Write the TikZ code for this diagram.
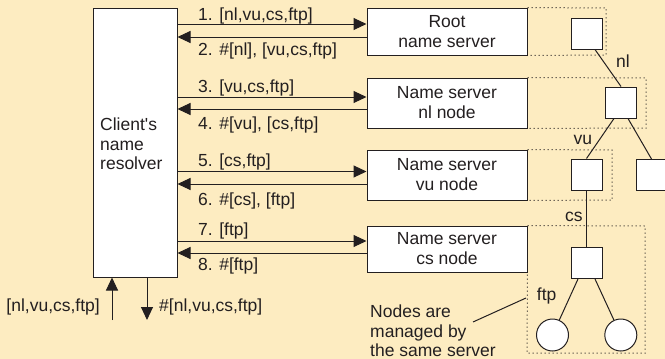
\documentclass[tikz,border=0pt]{standalone}
\usepackage{fontspec}
\setmainfont{Liberation Sans}
\usetikzlibrary{arrows.meta}
\definecolor{bg}{RGB}{253,236,193}
\definecolor{ink}{RGB}{35,31,32}

\begin{document}
\begin{tikzpicture}[x=1pt,y=-1pt,
  every node/.style={font=\fontsize{17.5}{20}\selectfont, text=ink},
  box/.style={draw=ink, fill=white, line width=1pt, inner sep=0pt},
  srv/.style={box, minimum width=160pt, align=center},
  sq/.style={box, minimum width=31pt, minimum height=31pt},
  leaf/.style={box, circle, minimum size=32pt},
  lbl/.style={inner sep=0pt, anchor=base west},
  arr/.style={draw=ink, line width=1pt, -{Triangle[length=13pt,width=12pt]}},
  edge/.style={draw=ink, line width=1pt},
  zone/.style={draw=ink, line width=1pt, dash pattern=on 1pt off 3pt}]

\useasboundingbox (0,0) rectangle (665,359);
\fill[bg] (0,0) rectangle (665,359);

% client side
\node[box, minimum width=84pt, minimum height=269pt] (client) at (135,142.5) {};
\node[lbl, anchor=north west, align=left, font=\fontsize{17.5}{19.75}\selectfont]
  (who) at (100,117.5) {Client\textquotesingle s\\name\\resolver};

% name servers
\node[srv, minimum height=47pt] (root) at (447,31.5) {Root\\name server};
\node[srv, minimum height=50pt] (nls) at (447,103) {Name server\\nl node};
\node[srv, minimum height=50pt] (vus) at (447,175) {Name server\\vu node};
\node[srv, minimum height=46pt] (css) at (447,249) {Name server\\cs node};

% iterative requests and replies
\draw[arr] (client.east |- 0,24) -- (root.west |- 0,24);
\draw[arr] (root.west |- 0,37) -- (client.east |- 0,37);
\draw[arr] (client.east |- 0,97) -- (nls.west |- 0,97);
\draw[arr] (nls.west |- 0,109) -- (client.east |- 0,109);
\draw[arr] (client.east |- 0,171.5) -- (vus.west |- 0,171.5);
\draw[arr] (vus.west |- 0,184) -- (client.east |- 0,184);
\draw[arr] (client.east |- 0,241) -- (css.west |- 0,241);
\draw[arr] (css.west |- 0,253) -- (client.east |- 0,253);

\node[lbl] (m1) at (198,20.5) {1. [nl,vu,cs,ftp]};
\node[lbl] (m2) at (198,55) {2. \#[nl], [vu,cs,ftp]};
\node[lbl] (m3) at (198,92.5) {3. [vu,cs,ftp]};
\node[lbl] (m4) at (198,129) {4. \#[vu], [cs,ftp]};
\node[lbl] (m5) at (198,166.5) {5. [cs,ftp]};
\node[lbl] (m6) at (198,205) {6. \#[cs], [ftp]};
\node[lbl] (m7) at (198,235.5) {7. [ftp]};
\node[lbl] (m8) at (198,270.5) {8. \#[ftp]};

% query in, answer out
\coordinate (qin) at (112,320);
\coordinate (qout) at (147,320);
\draw[arr] (qin) -- (qin |- client.south);
\draw[arr] (qout |- client.south) -- (qout);
\node[lbl, anchor=base east] (qinl) at (100,311.5) {[nl,vu,cs,ftp]};
\node[lbl] (qoutl) at (159,311.5) {\#[nl,vu,cs,ftp]};

% name space tree
\node[sq] (t0) at (586.5,33.5) {};
\node[sq] (t1) at (621,102.5) {};
\node[sq] (t2) at (586.5,174.5) {};
\node[sq] (t3) at (651.5,175) {};
\node[sq] (t4) at (586.5,263) {};
\node[leaf] (c1) at (552.5,335) {};
\node[leaf] (c2) at (620.8,335) {};

\draw[edge] ([xshift=8.5pt]t0.south) -- (t1.north);
\draw[edge] ([xshift=-7pt]t1.south) -- (t2.north);
\draw[edge] ([xshift=7pt]t1.south) -- (t3.north);
\draw[edge] (t2.south) -- (t4.north);
\draw[edge] ([xshift=-8.5pt]t4.south) -- (c1);
\draw[edge] ([xshift=8.5pt]t4.south) -- (c2);

\node[lbl] (enl) at (616,67.7) {nl};
\node[lbl] (evu) at (573.3,144) {vu};
\node[lbl] (ecs) at (565,221.7) {cs};
\node[lbl] (eftp) at (536.7,300) {ftp};

% zones handled by each server
\draw[zone] (root.north east) -- (606,8) -- (606,55) -- (root.south east);
\draw[zone] (nls.north east) -- (646,78) -- (646,128) -- (nls.south east);
\draw[zone] (vus.north east) -- (612,150) -- (612,200) -- (vus.south east);
\draw[zone] (css.north east) -- (645,226) -- (645,353) -- (527,353) -- (css.south east);

% remark
\node[lbl, anchor=north west, align=left, font=\fontsize{17.5}{19.4}\selectfont]
  (note) at (370,305) {Nodes are\\managed by\\the same server};
\coordinate (pa) at (473,322);
\coordinate (pb) at (526,298);
\draw[edge] (pa) -- (pb);
\end{tikzpicture}
\end{document}
